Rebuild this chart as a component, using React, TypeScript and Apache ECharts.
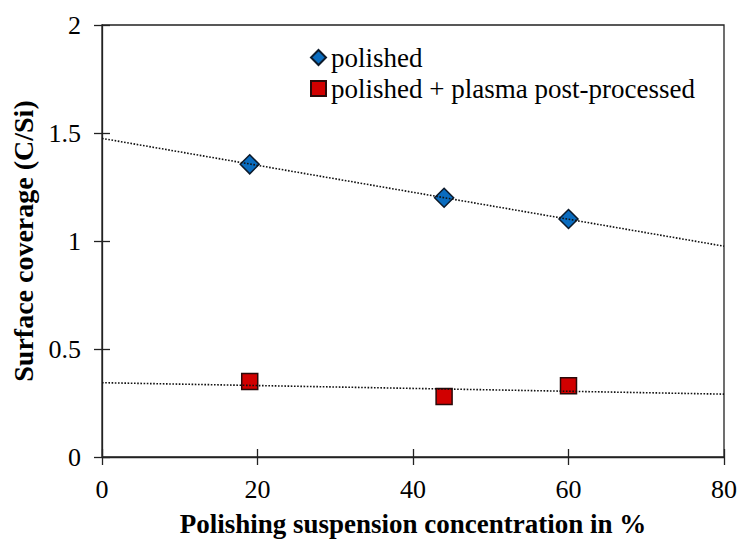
import React, { useEffect, useRef } from "react";
import * as echarts from "echarts";

const concentration = [19, 44, 60];
const polished = [1.355, 1.2, 1.102];
const plasma = [0.35, 0.28, 0.33];
const polishedTrend = [[0, 1.475], [80, 0.976]];
const plasmaTrend = [[0, 0.344], [80, 0.291]];
const xTicks = [0, 20, 40, 60, 80];
const yTicks = [0, 0.5, 1, 1.5, 2];

const FONT = "Liberation Serif";

export default function App() {
  const ref = useRef<HTMLDivElement>(null);
  useEffect(() => {
    if (!ref.current) return;
    const chart = echarts.init(ref.current, undefined, { renderer: "svg" });
    const baseX = {
      type: "value",
      min: xTicks[0],
      max: xTicks[xTicks.length - 1],
      interval: 20,
      splitLine: { show: false },
    };
    const baseY = {
      type: "value",
      min: yTicks[0],
      max: yTicks[yTicks.length - 1],
      interval: 0.5,
      splitLine: { show: false },
    };
    chart.setOption({
      animation: false,
      backgroundColor: "#fff",
      textStyle: { fontFamily: FONT },
      grid: {
        left: 102,
        right: 15,
        top: 25,
        bottom: 82,
        show: true,
        borderColor: "#222",
        borderWidth: 1.3,
        backgroundColor: "transparent",
      },
      legend: {
        orient: "vertical",
        left: 310,
        top: 44,
        padding: 0,
        itemWidth: 15,
        itemHeight: 15,
        itemGap: 4,
        data: ["polished", "polished + plasma post-processed"],
        textStyle: { fontFamily: FONT, fontSize: 27, color: "#000", lineHeight: 27 },
      },
      xAxis: [
        {
          ...baseX,
          name: "Polishing suspension concentration in %",
          nameLocation: "middle",
          nameGap: 53,
          nameTextStyle: { fontFamily: FONT, fontSize: 27, fontWeight: "bold", color: "#000" },
          axisLine: { lineStyle: { color: "#222", width: 1.3 } },
          axisTick: { show: true, inside: false, length: 8, lineStyle: { color: "#222", width: 1.3 } },
          axisLabel: {
            fontFamily: FONT,
            fontSize: 26,
            color: "#000",
            margin: 19,
            formatter: (v: number) => String(v),
          },
        },
        {
          ...baseX,
          position: "bottom",
          axisLine: { show: false },
          axisTick: { show: true, inside: true, length: 8, lineStyle: { color: "#222", width: 1.3 } },
          axisLabel: { show: false },
        },
      ],
      yAxis: [
        {
          ...baseY,
          name: "Surface coverage (C/Si)",
          nameLocation: "middle",
          nameGap: 63,
          nameTextStyle: { fontFamily: FONT, fontSize: 28, fontWeight: "bold", color: "#000" },
          axisLine: { lineStyle: { color: "#222", width: 1.3 } },
          axisTick: { show: true, inside: false, length: 8, lineStyle: { color: "#222", width: 1.3 } },
          axisLabel: {
            fontFamily: FONT,
            fontSize: 26,
            color: "#000",
            margin: 21,
            formatter: (v: number) => String(v),
          },
        },
        {
          ...baseY,
          position: "left",
          axisLine: { show: false },
          axisTick: { show: true, inside: true, length: 8, lineStyle: { color: "#222", width: 1.3 } },
          axisLabel: { show: false },
        },
      ],
      series: [
        {
          name: "polished",
          type: "scatter",
          symbol: "diamond",
          symbolSize: [19, 19],
          itemStyle: { color: "#0a6cbf", borderColor: "#0d1a2a", borderWidth: 1.5, opacity: 1 },
          data: concentration.map((x, i) => [x, polished[i]]),
          z: 2,
        },
        {
          name: "polished + plasma post-processed",
          type: "scatter",
          symbol: "rect",
          symbolSize: [16, 16],
          itemStyle: { color: "#d10000", borderColor: "#2a0a0a", borderWidth: 1.5, opacity: 1 },
          data: concentration.map((x, i) => [x, plasma[i]]),
          z: 2,
        },
        {
          name: "polishedTrend",
          type: "line",
          symbol: "none",
          data: polishedTrend,
          lineStyle: { color: "#111", width: 1.6, type: [1.6, 1.6] },
          z: 5,
          silent: true,
        },
        {
          name: "plasmaTrend",
          type: "line",
          symbol: "none",
          data: plasmaTrend,
          lineStyle: { color: "#111", width: 1.6, type: [1.6, 1.6] },
          z: 5,
          silent: true,
        },
      ],
    });
    return () => chart.dispose();
  }, []);
  return <div ref={ref} style={{ width: 740, height: 542, position: "absolute", left: 0, top: 0 }} />;
}
